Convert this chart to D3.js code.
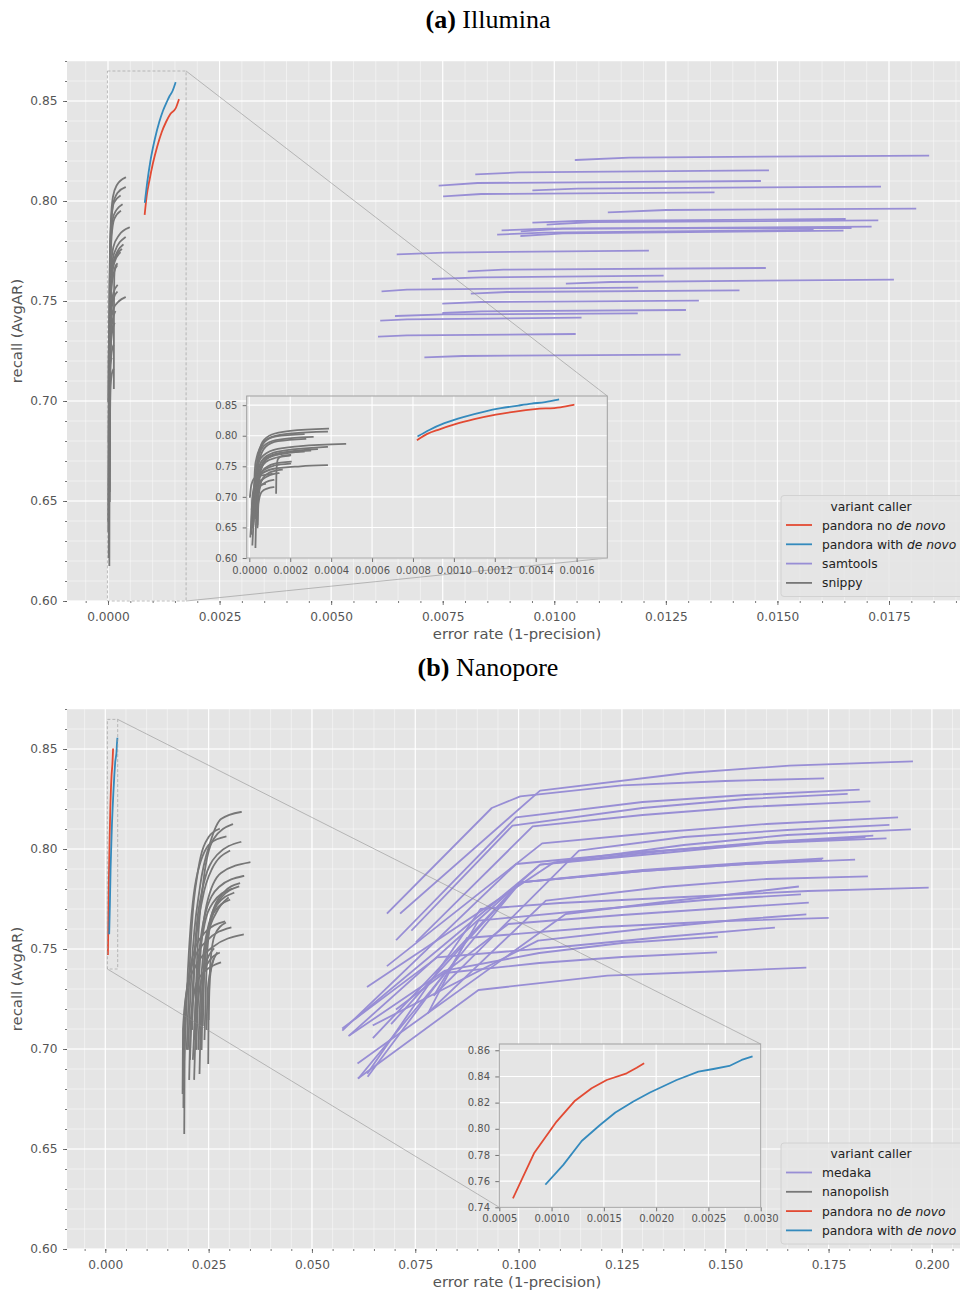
<!DOCTYPE html>
<meta charset="utf-8">
<html>
<head>
  <title>Illumina / Nanopore precision-recall</title>
  <script src="https://cdn.jsdelivr.net/npm/d3@7"></script>
  <style>
    body { margin: 0; background: #fff; }
    text { font-family: "DejaVu Sans", sans-serif; }
    .title { font-family: "Liberation Serif", serif; font-size: 26px; fill: #000; }
  </style>
</head>
<body>
<svg id="svg" width="960" height="1291"></svg>
<script>
  // ---- tick labels ----
  var mainYTicks = [0.60, 0.65, 0.70, 0.75, 0.80, 0.85];
  var illuminaXTicks = [0, 0.0025, 0.005, 0.0075, 0.01, 0.0125, 0.015, 0.0175];
  var illuminaInsetXTicks = [0, 0.0002, 0.0004, 0.0006, 0.0008, 0.001, 0.0012, 0.0014, 0.0016];
  var illuminaInsetYTicks = [0.60, 0.65, 0.70, 0.75, 0.80, 0.85];
  var nanoporeXTicks = [0, 0.025, 0.05, 0.075, 0.1, 0.125, 0.15, 0.175, 0.2];
  var nanoporeInsetXTicks = [0.0005, 0.001, 0.0015, 0.002, 0.0025, 0.003];
  var nanoporeInsetYTicks = [0.74, 0.76, 0.78, 0.80, 0.82, 0.84, 0.86];

  var illuminaLegend = ["pandora no |de novo", "pandora with |de novo", "samtools", "snippy"];
  var nanoporeLegend = ["medaka", "nanopolish", "pandora no |de novo", "pandora with |de novo"];

  // ---- (a) Illumina : [error rate, recall] ----
  var illuminaPandoraNoDenovo = [[0.000823, 0.7935], [0.00087, 0.803], [0.00093, 0.8105], [0.001003, 0.8185], [0.0011, 0.827],
    [0.001205, 0.8345], [0.0013, 0.8395], [0.001397, 0.8435], [0.00152, 0.8465], [0.001585, 0.8505]];
  var illuminaPandoraDenovo = [[0.000826, 0.7995], [0.00088, 0.8095], [0.000954, 0.8205], [0.00105, 0.831], [0.00115, 0.8396],
    [0.00123, 0.845], [0.001315, 0.8494], [0.00138, 0.8525], [0.001446, 0.855], [0.00151, 0.859]];

  var illuminaSnippy = [
    [[0.00003, 0.700], [0.00004, 0.760], [0.000065, 0.790], [0.00011, 0.802], [0.0002, 0.808], [0.000385, 0.8117]],
    [[0.00002, 0.690], [0.00003, 0.755], [0.00006, 0.785], [0.00011, 0.798], [0.00021, 0.804], [0.00038, 0.8068]],
    [[0.000035, 0.700], [0.000045, 0.765], [0.000075, 0.790], [0.00013, 0.799], [0.000266, 0.8025]],
    [[0.000025, 0.685], [0.000035, 0.750], [0.00007, 0.783], [0.00013, 0.793], [0.00031, 0.7981]],
    [[0.00003, 0.690], [0.000045, 0.755], [0.00008, 0.782], [0.00014, 0.791], [0.000274, 0.7949]],
    [[0.00001, 0.640], [0.000025, 0.720], [0.000055, 0.763], [0.00012, 0.777], [0.00025, 0.783], [0.000469, 0.7867]],
    [[0.00002, 0.660], [0.000035, 0.730], [0.00007, 0.763], [0.00014, 0.774], [0.00038, 0.7818]],
    [[0.000015, 0.650], [0.00003, 0.725], [0.000065, 0.760], [0.00014, 0.771], [0.000331, 0.778]],
    [[0.00004, 0.680], [0.00005, 0.735], [0.000085, 0.762], [0.00015, 0.771], [0.000298, 0.7757]],
    [[0.000025, 0.670], [0.00004, 0.730], [0.000075, 0.760], [0.00014, 0.769], [0.000266, 0.7741]],
    [[0.000035, 0.690], [0.000045, 0.735], [0.00008, 0.757], [0.00013, 0.764], [0.000197, 0.7675]],
    [[0.000131, 0.7065], [0.000133, 0.745], [0.00014, 0.762], [0.00016, 0.767], [0.0002, 0.7685]],
    [[0.00003, 0.665], [0.00004, 0.715], [0.00007, 0.745], [0.00012, 0.754], [0.000203, 0.7577]],
    [[0.00002, 0.655], [0.000035, 0.710], [0.000065, 0.742], [0.00012, 0.751], [0.0002, 0.7544]],
    [[0.000005, 0.635], [0.00002, 0.700], [0.00005, 0.735], [0.00012, 0.746], [0.00025, 0.750], [0.00038, 0.7518]],
    [[0.00004, 0.655], [0.000045, 0.700], [0.000065, 0.730], [0.0001, 0.740], [0.000159, 0.7446]],
    [[0.000015, 0.622], [0.000025, 0.680], [0.000045, 0.720], [0.00009, 0.734], [0.000143, 0.7387]],
    [[0.000003, 0.700], [0.00001, 0.720], [0.00003, 0.732], [0.00011, 0.7375]],
    [[0.00003, 0.618], [0.000035, 0.680], [0.00005, 0.715], [0.00008, 0.724], [0.000118, 0.7277]],
    [[0.000012, 0.680], [0.00002, 0.705], [0.00004, 0.717], [0.000077, 0.7212]],
    [[0.00004, 0.650], [0.000045, 0.690], [0.00006, 0.708], [0.00009, 0.714], [0.000118, 0.7158]],
    [[0.000008, 0.640], [0.000015, 0.700], [0.00003, 0.722], [0.00006, 0.728]]
  ];

  var illuminaSamtools = [
    [[0.01048, 0.8205], [0.01168, 0.8217], [0.01838, 0.8227]],
    [[0.00825, 0.8133], [0.00919, 0.8143], [0.01479, 0.8153]],
    [[0.00743, 0.8077], [0.00828, 0.809], [0.01461, 0.810]],
    [[0.00953, 0.8053], [0.01052, 0.8062], [0.0173, 0.8072]],
    [[0.00753, 0.8023], [0.00836, 0.8035], [0.01357, 0.8043]],
    [[0.01122, 0.7943], [0.01251, 0.7955], [0.01809, 0.7962]],
    [[0.00953, 0.7892], [0.01052, 0.790], [0.01651, 0.791]],
    [[0.00985, 0.7882], [0.01085, 0.7895], [0.01724, 0.7903]],
    [[0.00884, 0.7853], [0.00985, 0.7862], [0.01664, 0.7865]],
    [[0.00927, 0.7848], [0.01019, 0.7862], [0.01709, 0.7872]],
    [[0.00874, 0.7832], [0.00977, 0.7842], [0.01579, 0.7855]],
    [[0.00926, 0.7825], [0.01019, 0.7838], [0.01646, 0.7852]],
    [[0.00649, 0.7733], [0.00753, 0.7742], [0.0121, 0.7752]],
    [[0.00808, 0.7648], [0.00886, 0.7657], [0.01472, 0.7665]],
    [[0.00728, 0.761], [0.00836, 0.7618], [0.01243, 0.7627]],
    [[0.01028, 0.7587], [0.01126, 0.7595], [0.01759, 0.7607]],
    [[0.00615, 0.7548], [0.0067, 0.7557], [0.01186, 0.7567]],
    [[0.00815, 0.7537], [0.00894, 0.7545], [0.01413, 0.7553]],
    [[0.00751, 0.7487], [0.00836, 0.7495], [0.01322, 0.7502]],
    [[0.00751, 0.744], [0.00836, 0.7448], [0.01293, 0.7455]],
    [[0.00645, 0.7425], [0.00753, 0.7433], [0.01185, 0.7438]],
    [[0.00612, 0.7402], [0.0067, 0.7408], [0.01059, 0.7417]],
    [[0.00607, 0.7322], [0.0067, 0.7328], [0.01046, 0.7335]],
    [[0.00711, 0.7218], [0.00795, 0.7225], [0.01281, 0.7232]]
  ];

  // ---- (b) Nanopore : [error rate, recall] ----
  var nanoporePandoraNoDenovo = [[0.000634, 0.7474], [0.000832, 0.7813], [0.001048, 0.8055], [0.001224, 0.8215], [0.001383, 0.831],
    [0.001527, 0.8373], [0.001718, 0.8424], [0.001814, 0.8467], [0.001878, 0.8498]];
  var nanoporePandoraDenovo = [[0.000946, 0.7578], [0.001112, 0.7724], [0.001288, 0.7907], [0.001463, 0.8029], [0.00161, 0.8124],
    [0.001782, 0.8208], [0.001941, 0.8277], [0.002196, 0.8373], [0.002404, 0.8437], [0.002547, 0.8457], [0.0027, 0.848],
    [0.002818, 0.8526], [0.002914, 0.8552]];

  var nanoporeNanopolish = [
    [[0.0200, 0.700], [0.0209, 0.741], [0.0229, 0.781], [0.0255, 0.804], [0.0280, 0.815], [0.0328, 0.8185]],
    [[0.0215, 0.705], [0.0222, 0.745], [0.0238, 0.785], [0.0262, 0.805], [0.0307, 0.8123]],
    [[0.0190, 0.690], [0.0200, 0.740], [0.0220, 0.785], [0.0255, 0.803], [0.0291, 0.8062]],
    [[0.0205, 0.695], [0.0215, 0.745], [0.0235, 0.780], [0.0270, 0.797], [0.0327, 0.8035]],
    [[0.0220, 0.700], [0.0228, 0.740], [0.0245, 0.772], [0.0280, 0.788], [0.0349, 0.7933]],
    [[0.0212, 0.695], [0.0222, 0.735], [0.0240, 0.766], [0.0275, 0.781], [0.0334, 0.7865]],
    [[0.0230, 0.705], [0.0238, 0.740], [0.0255, 0.765], [0.0285, 0.778], [0.0324, 0.7828]],
    [[0.0225, 0.700], [0.0233, 0.738], [0.0250, 0.762], [0.0282, 0.776], [0.0322, 0.7812]],
    [[0.0191, 0.658], [0.0192, 0.700], [0.0196, 0.725], [0.0210, 0.745], [0.0240, 0.758], [0.0288, 0.7637]],
    [[0.0189, 0.671], [0.0190, 0.705], [0.0196, 0.728], [0.0215, 0.745], [0.0245, 0.754], [0.0303, 0.7607]],
    [[0.0187, 0.678], [0.0188, 0.710], [0.0198, 0.730], [0.0220, 0.742], [0.0260, 0.751], [0.0333, 0.7572]],
    [[0.0203, 0.685], [0.0207, 0.715], [0.0225, 0.735], [0.0278, 0.7432]],
    [[0.0215, 0.685], [0.0220, 0.715], [0.0233, 0.735], [0.0255, 0.745], [0.0275, 0.748]],
    [[0.0228, 0.688], [0.0232, 0.720], [0.0240, 0.740], [0.0262, 0.750]],
    [[0.0249, 0.693], [0.0250, 0.720], [0.0255, 0.745], [0.0265, 0.757], [0.0290, 0.763]],
    [[0.0233, 0.700], [0.0236, 0.730], [0.0245, 0.755], [0.0262, 0.768], [0.0300, 0.7745]],
    [[0.0240, 0.705], [0.0244, 0.735], [0.0252, 0.760], [0.0270, 0.772], [0.0310, 0.778]],
    [[0.0197, 0.700], [0.0205, 0.745], [0.0225, 0.790], [0.0250, 0.806], [0.0275, 0.810]],
    [[0.0210, 0.710], [0.0218, 0.750], [0.0235, 0.775], [0.0258, 0.790], [0.0300, 0.799]],
    [[0.0250, 0.715], [0.0253, 0.735], [0.0262, 0.745]],
    [[0.0245, 0.710], [0.0248, 0.730], [0.0258, 0.742], [0.0270, 0.748]],
    [[0.0218, 0.710], [0.0225, 0.740], [0.0238, 0.760], [0.0260, 0.773], [0.0305, 0.780]],
    [[0.0236, 0.712], [0.0240, 0.740], [0.0250, 0.758], [0.0268, 0.768], [0.0297, 0.7755]]
  ];

  var nanoporeMedaka = [
    [[0.0715, 0.768], [0.1052, 0.8292], [0.1406, 0.838], [0.1655, 0.8417], [0.1952, 0.8438]],
    [[0.0683, 0.768], [0.0935, 0.8205], [0.1004, 0.8263], [0.125, 0.8318], [0.15, 0.834], [0.1737, 0.8353]],
    [[0.0705, 0.7547], [0.0994, 0.8158], [0.13, 0.8235], [0.155, 0.827], [0.1823, 0.8297]],
    [[0.0742, 0.7595], [0.0985, 0.8117], [0.13, 0.8205], [0.155, 0.825], [0.1794, 0.8275]],
    [[0.0753, 0.7537], [0.1034, 0.8113], [0.13, 0.817], [0.155, 0.821], [0.1849, 0.8238]],
    [[0.0683, 0.7417], [0.1057, 0.8028], [0.135, 0.8085], [0.16, 0.8125], [0.1916, 0.8158]],
    [[0.0796, 0.727], [0.1146, 0.7992], [0.14, 0.806], [0.165, 0.8095], [0.1895, 0.812]],
    [[0.0635, 0.7312], [0.1085, 0.7933], [0.14, 0.802], [0.165, 0.807], [0.1947, 0.8098]],
    [[0.0606, 0.7153], [0.1052, 0.7922], [0.135, 0.799], [0.16, 0.8035], [0.1856, 0.8067]],
    [[0.0575, 0.7095], [0.0994, 0.7925], [0.13, 0.7985], [0.16, 0.803], [0.1888, 0.8053]],
    [[0.059, 0.7067], [0.1052, 0.7922], [0.135, 0.798], [0.16, 0.803], [0.1837, 0.8058]],
    [[0.0649, 0.7058], [0.1004, 0.7833], [0.13, 0.7895], [0.155, 0.793], [0.1735, 0.7953]],
    [[0.0693, 0.7128], [0.1004, 0.7833], [0.13, 0.789], [0.155, 0.7925], [0.1812, 0.7947]],
    [[0.0613, 0.6855], [0.1004, 0.7833], [0.13, 0.789], [0.155, 0.7925], [0.1732, 0.7945]],
    [[0.0782, 0.7183], [0.1066, 0.7742], [0.135, 0.781], [0.16, 0.785], [0.1843, 0.7863]],
    [[0.0635, 0.688], [0.0908, 0.770], [0.11, 0.773], [0.14, 0.776], [0.17, 0.779], [0.199, 0.7807]],
    [[0.0612, 0.693], [0.1114, 0.7675], [0.135, 0.7735], [0.15, 0.777], [0.1676, 0.7812]],
    [[0.0796, 0.727], [0.0903, 0.7642], [0.12, 0.770], [0.145, 0.7745], [0.1681, 0.7773]],
    [[0.0705, 0.720], [0.0975, 0.7625], [0.125, 0.767], [0.15, 0.7705], [0.170, 0.7732]],
    [[0.0649, 0.712], [0.1047, 0.7542], [0.13, 0.760], [0.155, 0.765], [0.1694, 0.7673]],
    [[0.0782, 0.7183], [0.0875, 0.7555], [0.12, 0.761], [0.15, 0.764], [0.1748, 0.7655]],
    [[0.0575, 0.7105], [0.0803, 0.7458], [0.11, 0.751], [0.135, 0.756], [0.1618, 0.7607]],
    [[0.0592, 0.707], [0.0822, 0.7392], [0.105, 0.748], [0.125, 0.753], [0.148, 0.7562]],
    [[0.0636, 0.6865], [0.0822, 0.738], [0.105, 0.743], [0.125, 0.746], [0.1478, 0.7483]],
    [[0.0613, 0.6855], [0.0903, 0.7295], [0.1215, 0.7367], [0.15, 0.739], [0.1694, 0.7407]]
  ];

  var ggRed = "#E24A33", ggBlue = "#348ABD", ggPurple = "#988ED5", ggGray = "#777777";

  var svg = d3.select("#svg");
  var defs = svg.append("defs");

  function inside(scale, vals) {
    var d = scale.domain();
    return vals.filter(function (v) { return v >= d[0] - 1e-12 && v <= d[1] + 1e-12; });
  }

  // gray box, white grid, clip path
  function drawFrame(g, id, x, y, xGrid, yGrid, xMinor, yMinor) {
    var x0 = x.range()[0], x1 = x.range()[1], y0 = y.range()[1], y1 = y.range()[0];
    defs.append("clipPath").attr("id", id).append("rect")
      .attr("x", x0).attr("y", y0).attr("width", x1 - x0).attr("height", y1 - y0);
    g.append("rect").attr("x", x0).attr("y", y0).attr("width", x1 - x0).attr("height", y1 - y0)
      .attr("fill", "#e5e5e5");
    var grid = g.append("g");
    if (xMinor) {
      grid.selectAll(".vmin").data(inside(x, xMinor)).enter().append("line")
        .attr("x1", x).attr("x2", x).attr("y1", y0).attr("y2", y1)
        .attr("stroke", "#fff").attr("stroke-width", 0.6).attr("stroke-opacity", 0.75);
      grid.selectAll(".hmin").data(inside(y, yMinor)).enter().append("line")
        .attr("y1", y).attr("y2", y).attr("x1", x0).attr("x2", x1)
        .attr("stroke", "#fff").attr("stroke-width", 0.6).attr("stroke-opacity", 0.75);
    }
    grid.selectAll(".vmaj").data(inside(x, xGrid)).enter().append("line")
      .attr("x1", x).attr("x2", x).attr("y1", y0).attr("y2", y1)
      .attr("stroke", "#fff").attr("stroke-width", 1.1);
    grid.selectAll(".hmaj").data(inside(y, yGrid)).enter().append("line")
      .attr("y1", y).attr("y2", y).attr("x1", x0).attr("x2", x1)
      .attr("stroke", "#fff").attr("stroke-width", 1.1);
  }

  function styleAxis(a, size) {
    a.select(".domain").remove();
    a.selectAll(".tick line").attr("stroke", "#555").attr("stroke-width", 0.8);
    a.selectAll(".tick text").attr("fill", "#555").style("font-size", size + "px")
      .style("font-family", "DejaVu Sans");
  }

  function drawAxes(g, x, y, o) {
    var bx = g.append("g").attr("transform", "translate(0," + y.range()[0] + ")")
      .call(d3.axisBottom(x).tickValues(o.xTicks).tickFormat(d3.format(o.xFmt)).tickSize(4).tickPadding(o.xPad));
    styleAxis(bx, o.font);
    var ly = g.append("g").attr("transform", "translate(" + x.range()[0] + ",0)")
      .call(d3.axisLeft(y).tickValues(o.yTicks).tickFormat(d3.format(o.yFmt)).tickSize(4).tickPadding(o.yPad));
    styleAxis(ly, o.font);
    if (o.xMinor) {
      var mx = g.append("g").attr("transform", "translate(0," + y.range()[0] + ")")
        .call(d3.axisBottom(x).tickValues(inside(x, o.xMinor)).tickFormat("").tickSize(2));
      styleAxis(mx, o.font);
      var my = g.append("g").attr("transform", "translate(" + x.range()[0] + ",0)")
        .call(d3.axisLeft(y).tickValues(inside(y, o.yMinor)).tickFormat("").tickSize(2));
      styleAxis(my, o.font);
    }
  }

  function drawSeries(g, x, y, series, color, curve, clip) {
    var line = d3.line().x(function (d) { return x(d[0]); }).y(function (d) { return y(d[1]); }).curve(curve);
    g.append("g").attr("clip-path", "url(#" + clip + ")")
      .selectAll("path").data(series).enter().append("path")
      .attr("d", line).attr("fill", "none").attr("stroke", color)
      .attr("stroke-width", 1.8).attr("stroke-linejoin", "round").attr("stroke-linecap", "square");
  }

  // dashed box in main axes + connector lines to the inset corners
  function drawZoomMarks(g, x, y, ix, iy, corners) {
    var r = { l: x(ix.domain()[0]), r: x(ix.domain()[1]), t: y(iy.domain()[1]), b: y(iy.domain()[0]) };
    var q = { l: ix.range()[0], r: ix.range()[1], t: iy.range()[1], b: iy.range()[0] };
    g.append("rect").attr("x", r.l).attr("y", r.t).attr("width", r.r - r.l).attr("height", r.b - r.t)
      .attr("fill", "none").attr("stroke", "#9a9a9a").attr("stroke-opacity", 0.7)
      .attr("stroke-width", 0.9).attr("stroke-dasharray", "3,2");
    corners.forEach(function (c) {
      g.append("line")
        .attr("x1", r[c[1]]).attr("y1", r[c[0]]).attr("x2", q[c[1]]).attr("y2", q[c[0]])
        .attr("stroke", "#8a8a8a").attr("stroke-opacity", 0.6).attr("stroke-width", 0.9);
    });
  }

  function drawLegend(top, labels, colors) {
    var lg = svg.append("g").attr("transform", "translate(781," + top + ")");
    lg.append("rect").attr("width", 182).attr("height", 101).attr("rx", 3)
      .attr("fill", "#e5e5e5").attr("fill-opacity", 0.85).attr("stroke", "#d2d2d2");
    lg.append("text").attr("x", 90).attr("y", 15).attr("text-anchor", "middle")
      .style("font-size", "12.3px").attr("fill", "#222").text("variant caller");
    labels.forEach(function (lab, i) {
      var cy = 29.5 + i * 19.3;
      lg.append("line").attr("x1", 5).attr("x2", 31).attr("y1", cy).attr("y2", cy)
        .attr("stroke", colors[i]).attr("stroke-width", 1.8);
      var parts = lab.split("|");
      var t = lg.append("text").attr("x", 41).attr("y", cy + 4.5).style("font-size", "12.3px").attr("fill", "#222");
      t.append("tspan").text(parts[0]);
      if (parts[1]) t.append("tspan").style("font-style", "italic").text(parts[1]);
    });
  }

  function drawTitle(yBase, bold, rest) {
    var t = svg.append("text").attr("class", "title").attr("x", 488).attr("y", yBase).attr("text-anchor", "middle");
    t.append("tspan").style("font-weight", "bold").text(bold);
    t.append("tspan").text(rest);
  }

  function drawAxisLabels(xLabelY, yLabelCenter) {
    svg.append("text").attr("x", 517).attr("y", xLabelY).attr("text-anchor", "middle")
      .style("font-size", "14.8px").attr("fill", "#555").text("error rate (1-precision)");
    svg.append("text").attr("transform", "translate(22," + yLabelCenter + ") rotate(-90)")
      .attr("text-anchor", "middle").style("font-size", "14.8px").attr("fill", "#555").text("recall (AvgAR)");
  }

  var mainYMinor = d3.range(60, 88).map(function (v) { return v / 100; });

  // ================= (a) Illumina =================
  drawTitle(28, "(a)", " Illumina");
  var ga = svg.append("g");
  var xa = d3.scaleLinear().domain([0, 0.0175]).range([108, 889]);
  xa.domain([xa.invert(67), xa.invert(968)]).range([67, 968]);
  var ya = d3.scaleLinear().domain([0.60, 0.87]).range([601, 61]);
  var xaMinor = d3.range(-2, 39).map(function (v) { return v * 0.0005; });
  drawFrame(ga, "clipA", xa, ya, illuminaXTicks, mainYTicks, xaMinor, mainYMinor);
  drawAxes(ga, xa, ya, { xTicks: illuminaXTicks, xFmt: ".4f", yTicks: mainYTicks, yFmt: ".2f", font: 12.2,
    xPad: 7, yPad: 5.5, xMinor: xaMinor, yMinor: mainYMinor });
  drawSeries(ga, xa, ya, illuminaSamtools, ggPurple, d3.curveLinear, "clipA");
  drawSeries(ga, xa, ya, illuminaSnippy, ggGray, d3.curveMonotoneX, "clipA");
  drawSeries(ga, xa, ya, [illuminaPandoraNoDenovo], ggRed, d3.curveMonotoneX, "clipA");
  drawSeries(ga, xa, ya, [illuminaPandoraDenovo], ggBlue, d3.curveMonotoneX, "clipA");

  var iax = d3.scaleLinear().domain([-0.0000128, 0.00175]).range([246.7, 607.3]);
  var iay = d3.scaleLinear().domain([0.60, 0.865]).range([558, 396]);
  drawZoomMarks(ga, xa, ya, iax, iay, [["t", "r"], ["b", "r"]]);

  var gia = svg.append("g");
  drawFrame(gia, "clipIA", iax, iay, illuminaInsetXTicks, illuminaInsetYTicks);
  drawAxes(gia, iax, iay, { xTicks: illuminaInsetXTicks, xFmt: ".4f", yTicks: illuminaInsetYTicks, yFmt: ".2f", font: 10,
    xPad: 4.5, yPad: 5.3 });
  drawSeries(gia, iax, iay, illuminaSnippy, ggGray, d3.curveMonotoneX, "clipIA");
  drawSeries(gia, iax, iay, [illuminaPandoraNoDenovo], ggRed, d3.curveMonotoneX, "clipIA");
  drawSeries(gia, iax, iay, [illuminaPandoraDenovo], ggBlue, d3.curveMonotoneX, "clipIA");
  gia.append("rect").attr("x", 246.7).attr("y", 396).attr("width", 360.6).attr("height", 162)
    .attr("fill", "none").attr("stroke", "#a0a0a0").attr("stroke-width", 1);

  drawLegend(495.5, illuminaLegend, [ggRed, ggBlue, ggPurple, ggGray]);
  drawAxisLabels(639, 331);

  // ================= (b) Nanopore =================
  drawTitle(676, "(b)", " Nanopore");
  var gb = svg.append("g");
  var xb = d3.scaleLinear().domain([0, 0.2]).range([105.3, 931.9]);
  xb.domain([xb.invert(67), xb.invert(968)]).range([67, 968]);
  var yb = d3.scaleLinear().domain([0.60, 0.87]).range([1249, 709]);
  var xbMinor = d3.range(-2, 42).map(function (v) { return v * 0.005; });
  drawFrame(gb, "clipB", xb, yb, nanoporeXTicks, mainYTicks, xbMinor, mainYMinor);
  drawAxes(gb, xb, yb, { xTicks: nanoporeXTicks, xFmt: ".3f", yTicks: mainYTicks, yFmt: ".2f", font: 12.2,
    xPad: 7, yPad: 5.5, xMinor: xbMinor, yMinor: mainYMinor });
  drawSeries(gb, xb, yb, nanoporeMedaka, ggPurple, d3.curveLinear, "clipB");
  drawSeries(gb, xb, yb, nanoporeNanopolish, ggGray, d3.curveMonotoneX, "clipB");
  drawSeries(gb, xb, yb, [nanoporePandoraNoDenovo], ggRed, d3.curveLinear, "clipB");
  drawSeries(gb, xb, yb, [nanoporePandoraDenovo], ggBlue, d3.curveLinear, "clipB");

  var ibx = d3.scaleLinear().domain([0.0005, 0.003]).range([499.3, 760.7]);
  var iby = d3.scaleLinear().domain([0.74, 0.8648]).range([1207.3, 1044]);
  drawZoomMarks(gb, xb, yb, ibx, iby, [["t", "r"], ["b", "l"]]);

  var gib = svg.append("g");
  drawFrame(gib, "clipIB", ibx, iby, nanoporeInsetXTicks, nanoporeInsetYTicks);
  drawAxes(gib, ibx, iby, { xTicks: nanoporeInsetXTicks, xFmt: ".4f", yTicks: nanoporeInsetYTicks, yFmt: ".2f", font: 10,
    xPad: 4, yPad: 5.3 });
  drawSeries(gib, ibx, iby, [nanoporePandoraNoDenovo], ggRed, d3.curveLinear, "clipIB");
  drawSeries(gib, ibx, iby, [nanoporePandoraDenovo], ggBlue, d3.curveLinear, "clipIB");
  gib.append("rect").attr("x", 499.3).attr("y", 1044).attr("width", 261.4).attr("height", 163.3)
    .attr("fill", "none").attr("stroke", "#a0a0a0").attr("stroke-width", 1);

  drawLegend(1143, nanoporeLegend, [ggPurple, ggGray, ggRed, ggBlue]);
  drawAxisLabels(1287, 979);
</script>
</body>
</html>
